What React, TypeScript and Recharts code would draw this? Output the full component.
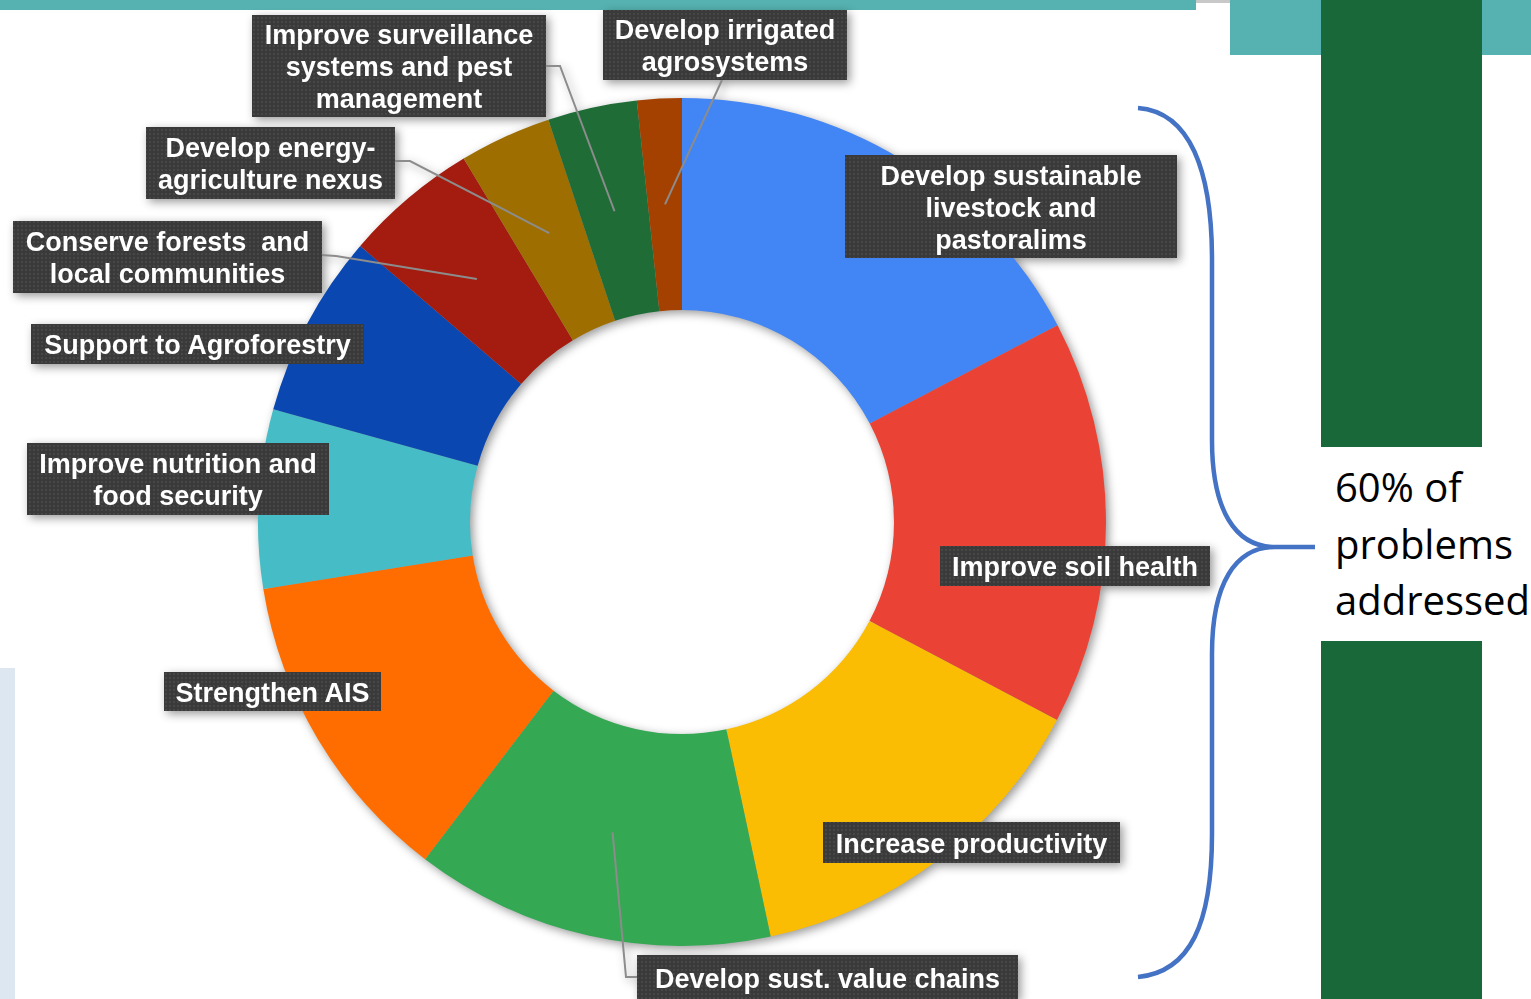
import { Cell, Pie, PieChart } from "recharts";

// slices run clockwise from 12 o'clock
const categories = [
  "Develop sustainable livestock and pastoralims",
  "Improve soil health",
  "Increase productivity",
  "Develop sust. value chains",
  "Strengthen AIS",
  "Improve nutrition and food security",
  "Support to Agroforestry",
  "Conserve forests  and local communities",
  "Develop energy-agriculture nexus",
  "Improve surveillance systems and pest management",
  "Develop irrigated agrosystems",
];

const shares = [17.3, 15.4, 13.9, 13.7, 12.1, 6.8, 7.0, 5.1, 3.5, 3.4, 1.7];

const labelLines = [
  ["Develop sustainable", "livestock and", "pastoralims"],
  ["Improve soil health"],
  ["Increase productivity"],
  ["Develop sust. value chains"],
  ["Strengthen AIS"],
  ["Improve nutrition and", "food security"],
  ["Support to Agroforestry"],
  ["Conserve forests  and", "local communities"],
  ["Develop energy-", "agriculture nexus"],
  ["Improve surveillance", "systems and pest", "management"],
  ["Develop irrigated", "agrosystems"],
];

const colors = [
  "#4285f4",
  "#ea4335",
  "#fbbc04",
  "#34a853",
  "#ff6d01",
  "#46bdc6",
  "#0b47b0",
  "#a41b0f",
  "#9e6e00",
  "#1f6c36",
  "#a54100",
];

const summaryLines = ["60% of", "problems", "addressed"];

const data = categories.map((name, i) => ({ name, value: shares[i] }));

// label box placement (layout only)
const labelBoxes = [
  { x: 845, y: 155, w: 332, h: 103 },
  { x: 940, y: 546, w: 270, h: 40 },
  { x: 823, y: 822, w: 297, h: 41 },
  { x: 637, y: 955, w: 381, h: 46 },
  { x: 164, y: 672, w: 217, h: 39 },
  { x: 27, y: 443, w: 302, h: 72 },
  { x: 31, y: 324, w: 333, h: 40 },
  { x: 13, y: 221, w: 309, h: 72 },
  { x: 146, y: 127, w: 249, h: 72 },
  { x: 252, y: 15, w: 294, h: 102 },
  { x: 603, y: 10, w: 244, h: 70 },
];

// leader line start points (box side) and elbows
const leaders: (number[][] | null)[] = [
  null,
  null,
  null,
  [[637, 977], [626, 977]],
  null,
  null,
  null,
  [[321, 255], [336, 256]],
  [[395, 161], [410, 161]],
  [[546, 66], [560, 66]],
  [[722, 80]],
];

const LINE_H = 32;
const RAD = Math.PI / 180;

function renderLabel(props: any) {
  const { cx, cy, midAngle, innerRadius, outerRadius, index } = props;
  const box = labelBoxes[index];
  const lines = labelLines[index];
  const r = (innerRadius + outerRadius) / 2;
  const ax = cx + r * Math.cos(-midAngle * RAD);
  const ay = cy + r * Math.sin(-midAngle * RAD);
  const lead = leaders[index];
  const mid = box.y + box.h / 2;
  const top = mid - ((lines.length - 1) * LINE_H) / 2;

  return (
    <g key={`label-${index}`}>
      {lead && (
        <polyline
          points={[...lead, [ax, ay]].map((p) => p.join(",")).join(" ")}
          fill="none"
          stroke="#8c8c8c"
          strokeWidth={2}
        />
      )}
      <rect x={box.x} y={box.y} width={box.w} height={box.h} fill="#3a3a3a" />
      <rect x={box.x} y={box.y} width={box.w} height={box.h} fill="url(#dots)" />
      <text
        fill="#ffffff"
        fontFamily="'Liberation Sans', Arial, sans-serif"
        fontWeight="bold"
        fontSize={27}
        textAnchor="middle"
        style={{ whiteSpace: "pre" }}
      >
        {lines.map((line, i) => (
          <tspan key={i} x={box.x + box.w / 2} y={top + i * LINE_H + 10}>
            {line}
          </tspan>
        ))}
      </text>
    </g>
  );
}

export default function App() {
  return (
    <div
      style={{
        position: "absolute",
        left: 0,
        top: 0,
        width: 1531,
        height: 999,
        overflow: "hidden",
        background: "#ffffff",
      }}
    >
      <svg width={0} height={0} style={{ position: "absolute" }}>
        <defs>
          <pattern id="dots" width={4} height={4} patternUnits="userSpaceOnUse">
            <circle cx={2} cy={2} r={0.8} fill="#565656" />
          </pattern>
        </defs>
      </svg>

      <svg width={1531} height={999} style={{ position: "absolute", left: 0, top: 0 }}>
        <rect x={0} y={0} width={1196} height={10} fill="#55b2b0" />
        <rect x={1196} y={0} width={34} height={3} fill="#c8c8c8" />
        <rect x={1230} y={0} width={301} height={55} fill="#55b2b0" />
        <rect x={1321} y={0} width={161} height={447} fill="#186839" />
        <rect x={1321} y={641} width={161} height={358} fill="#186839" />
        <rect x={0} y={668} width={15} height={331} fill="#dde7f2" />
        <path
          d="M1138,108 C1190,112 1212,170 1212,260 L1212,440 C1212,510 1235,547 1275,547 L1315,547 M1275,547 C1235,547 1212,584 1212,654 L1212,834 C1212,924 1190,972 1138,977"
          fill="none"
          stroke="#4472c4"
          strokeWidth={4.5}
        />
        <text
          fontFamily="'Open Sans', sans-serif"
          fontSize={40}
          fill="#000000"
        >
          {summaryLines.map((line, i) => (
            <tspan key={i} x={1335} y={502 + i * 56.5}>
              {line}
            </tspan>
          ))}
        </text>
      </svg>

      <div
        style={{
          position: "absolute",
          left: 0,
          top: 0,
          filter: "drop-shadow(3px 3px 5px rgba(0,0,0,0.4))",
        }}
      >
        <PieChart width={1531} height={999} margin={{ top: 0, right: 0, bottom: 0, left: 0 }}>
          <Pie
            data={data}
            dataKey="value"
            nameKey="name"
            cx={682}
            cy={522}
            innerRadius={212}
            outerRadius={424}
            startAngle={90}
            endAngle={-270}
            stroke="none"
            label={renderLabel}
            labelLine={false}
            isAnimationActive={false}
          >
            {data.map((d, i) => (
              <Cell key={d.name} fill={colors[i]} stroke="none" />
            ))}
          </Pie>
        </PieChart>
      </div>
    </div>
  );
}
